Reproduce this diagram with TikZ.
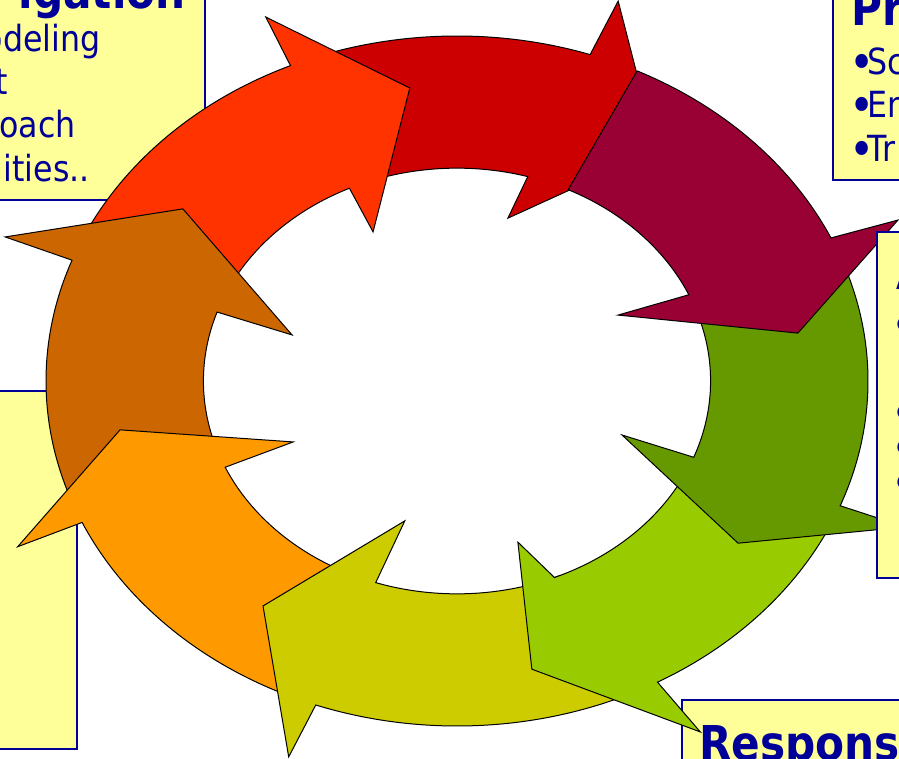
\documentclass[tikz,border=0pt]{standalone}
\usepackage{graphicx}
\usepackage{fontspec}
\setmainfont{DejaVu Sans}[FakeStretch=0.88]

\definecolor{arrowred}{HTML}{CC0000}
\definecolor{arroworangered}{HTML}{FF3300}
\definecolor{arrowmaroon}{HTML}{990033}
\definecolor{arrowolive}{HTML}{669900}
\definecolor{arrowlime}{HTML}{99CC00}
\definecolor{arrowyellow}{HTML}{CCCC00}
\definecolor{arroworange}{HTML}{FF9900}
\definecolor{arrowbrown}{HTML}{CC6600}
\definecolor{notefill}{HTML}{FFFF99}
\definecolor{noteline}{HTML}{000099}

\newcommand{\ringin}{0.617}
\newcommand{\notebullet}{\raisebox{-0.12em}{\scalebox{1.35}{•}}\kern-0.2em}

\tikzset{
  arrowedge/.style={draw=black, line width=0.75pt, line join=miter},
  notebox/.style={fill=notefill, draw=noteline, line width=1.3pt},
  bodytext/.style={inner sep=0pt, text=noteline, font=\fontsize{27}{32}\selectfont},
  headtext/.style={inner sep=0pt, text=noteline, font=\fontsize{36}{43}\selectfont\bfseries}
}

\begin{document}
\begin{tikzpicture}[x=0.75pt,y=0.75pt,yscale=-1,xscale=1]
\useasboundingbox (0,0) rectangle (899,759);

%Text box [investigation]
\draw [notebox] (-10,-10) rectangle (205,200) ;
\node [headtext, anchor=base east] (invtitle) at (186,9) {igation};
\node [bodytext, anchor=base east] (invline1) at (101,52) {odeling};
\node [bodytext, anchor=base east] (invline2) at (8,95) {t};
\node [bodytext, anchor=base east] (invline3) at (76,138) {oach};
\node [bodytext, anchor=base east] (invline4) at (90,182) {ities..};
%Text box [left]
\draw [notebox] (-10,391) rectangle (77,749) ;
%Text box [response]
\draw [notebox] (682,700) rectangle (910,770) ;
\node [headtext, anchor=base west] (restitle) at (699,760) {Respons};

\begin{scope}[shift={(457,381)},x=308.25pt,y=258.75pt,yscale=-1]
%Block Arc Arrow [red]
\draw [arrowedge, fill=arrowred] (110:1) arc [start angle=110, end angle=71.1, radius=1] -- (70.4:1.169) -- (54:0.826) -- (75.3:0.488) -- (73.8:\ringin) arc [start angle=73.8, end angle=110, radius=\ringin] -- cycle ;
%Block Arc Arrow [orange red]
\draw [arrowedge, fill=arroworangered] (156:1) arc [start angle=156, end angle=113.9, radius=1] -- (113.8:1.153) -- (97.7:0.857) -- (115.3:0.478) -- (115.1:\ringin) arc [start angle=115.1, end angle=156, radius=\ringin] -- cycle ;
%Block Arc Arrow [brown]
\draw [arrowedge, fill=arrowbrown] (200:1) arc [start angle=200, end angle=159.5, radius=1] -- (159.2:1.176) -- (143.2:0.833) -- (161.6:0.423) -- (161.1:\ringin) arc [start angle=161.1, end angle=200, radius=\ringin] -- cycle ;
%Block Arc Arrow [orange]
\draw [arrowedge, fill=arroworange] (-113:1) arc [start angle=-113, end angle=-155.8, radius=1] -- (-155.8:1.172) -- (-170.2:0.832) -- (-156.1:0.436) -- (-156.1:\ringin) arc [start angle=-156.1, end angle=-113, radius=\ringin] -- cycle ;
%Block Arc Arrow [yellow]
\draw [arrowedge, fill=arrowyellow] (-66:1) arc [start angle=-66, end angle=-110.1, radius=1] -- (-110.6:1.164) -- (-125.9:0.805) -- (-107.4:0.425) -- (-108.7:\ringin) arc [start angle=-108.7, end angle=-66, radius=\ringin] -- cycle ;
%Block Arc Arrow [lime]
\draw [arrowedge, fill=arrowlime] (-25:1) arc [start angle=-25, end angle=-60.8, radius=1] -- (-59.8:1.177) -- (-77.7:0.855) -- (-72.4:0.49) -- (-67.4:\ringin) arc [start angle=-67.4, end angle=-25, radius=\ringin] -- cycle ;
%Block Arc Arrow [olive]
\draw [arrowedge, fill=arrowolive] (20:1) arc [start angle=20, end angle=-21.2, radius=1] -- (-21.2:1.17) -- (-34.5:0.83) -- (-21.3:0.431) -- (-21:\ringin) arc [start angle=-21, end angle=20, radius=\ringin] -- cycle ;
%Block Arc Arrow [maroon]
\draw [arrowedge, fill=arrowmaroon] (64:1) arc [start angle=64, end angle=24.5, radius=1] -- (23.5:1.17) -- (9.5:0.841) -- (26:0.436) -- (23.9:\ringin) arc [start angle=23.9, end angle=64, radius=\ringin] -- cycle ;
\end{scope}

%Text box [procedures]
\draw [notebox] (833,-10) rectangle (910,180) ;
\node [headtext, anchor=base west] (prtitle) at (851,26) {Pr};
\node [bodytext, anchor=base west] (prline1) at (849,75) {\notebullet Sc};
\node [bodytext, anchor=base west] (prline2) at (849,118) {\notebullet En};
\node [bodytext, anchor=base west] (prline3) at (849,162) {\notebullet Tr};
%Text box [right]
\draw [notebox] (877,232) rectangle (910,578) ;
\node [headtext, anchor=base west] (aptitle) at (896,290) {A};
\node [bodytext, anchor=base west] (apline1) at (891,338) {\notebullet};
\node [bodytext, anchor=base west] (apline2) at (891,426) {\notebullet};
\node [bodytext, anchor=base west] (apline3) at (891,461) {\notebullet};
\node [bodytext, anchor=base west] (apline4) at (891,496) {\notebullet};
\end{tikzpicture}
\end{document}
